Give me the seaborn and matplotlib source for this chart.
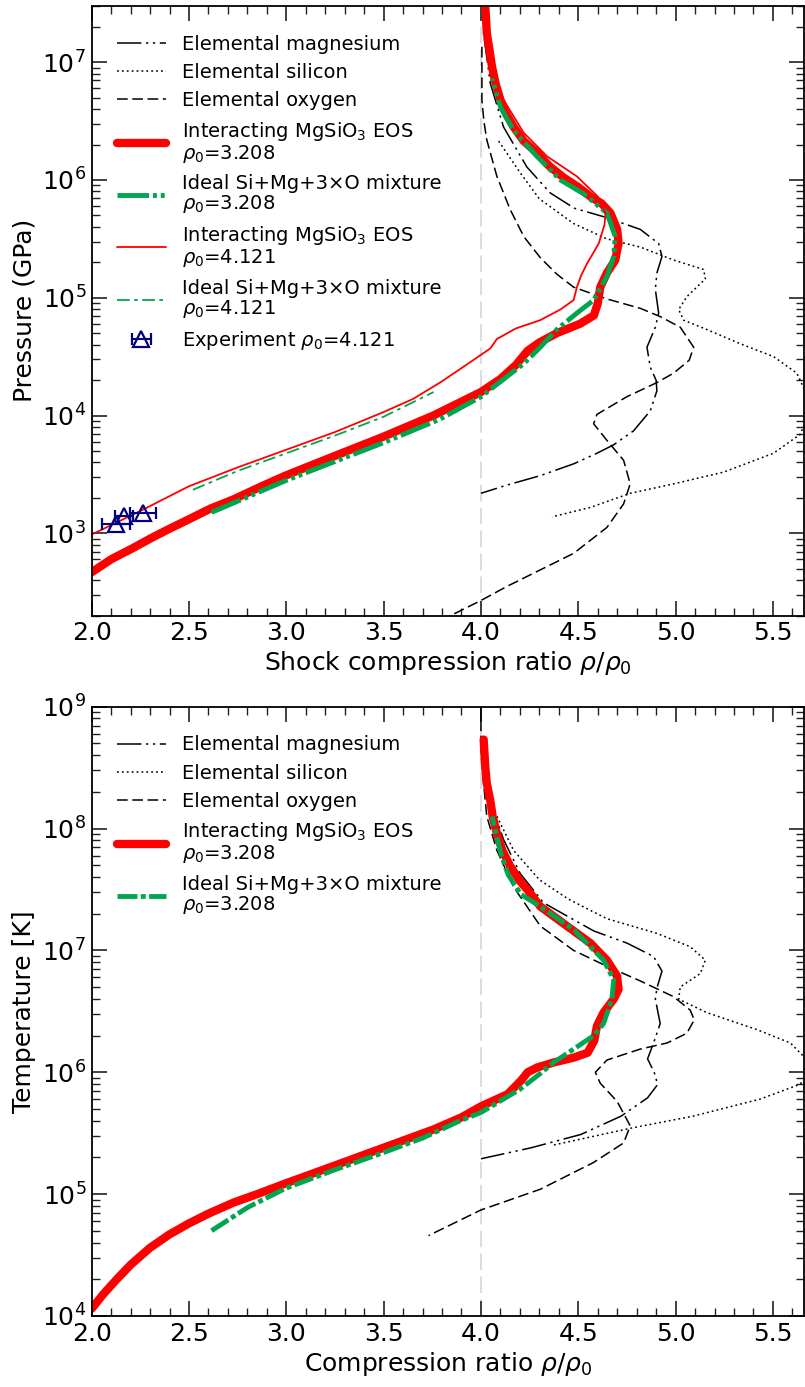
import numpy as np
import matplotlib
matplotlib.use("Agg")
import matplotlib.pyplot as plt
from matplotlib.ticker import MultipleLocator, LogLocator, NullFormatter
import seaborn as sns

sns.set_style("ticks")
plt.rcParams["font.family"] = ["DejaVu Sans"]
plt.rcParams["mathtext.fontset"] = "dejavusans"
for k in ["text.color", "axes.labelcolor", "xtick.color", "ytick.color", "axes.edgecolor"]:
    plt.rcParams[k] = "black"

RED = "#ff0000"
GREEN = "#00a550"
NAVY = "#000080"

# ---------------- top panel: pressure, values as log10(P / GPa)
mg_p_x = [4.017, 4.048, 4.116, 4.236, 4.356, 4.48, 4.647, 4.819, 4.913, 4.93,
          4.904, 4.896, 4.913, 4.896, 4.853, 4.87, 4.90, 4.904, 4.87, 4.784,
          4.68, 4.596, 4.476, 4.305, 4.134, 4.0]
mg_p_log = [7.20, 6.82, 6.45, 6.11, 5.89, 5.76, 5.68, 5.58, 5.46, 5.35,
            5.21, 5.07, 4.87, 4.75, 4.58, 4.41, 4.30, 4.21, 4.04, 3.87,
            3.75, 3.68, 3.59, 3.49, 3.41, 3.34]

si_p_x = [4.091, 4.202, 4.30, 4.476, 4.647, 4.819, 4.99, 5.144, 5.153, 5.058,
          5.016, 5.041, 5.161, 5.332, 5.504, 5.623, 5.665, 5.72, 5.67, 5.64,
          5.503, 5.247, 4.99, 4.767, 4.562, 4.365]
si_p_log = [6.33, 6.06, 5.84, 5.63, 5.50, 5.43, 5.32, 5.24, 5.16, 5.01,
            4.90, 4.81, 4.73, 4.61, 4.50, 4.36, 4.21, 4.08, 3.96, 3.84,
            3.68, 3.52, 3.42, 3.34, 3.22, 3.14]

o_p_x = [4.005, 4.005, 4.015, 4.03, 4.082, 4.15, 4.22, 4.305, 4.39, 4.476,
         4.647, 4.819, 4.921, 5.024, 5.093, 5.07, 4.99, 4.904, 4.75, 4.596,
         4.579, 4.647, 4.733, 4.767, 4.733, 4.647, 4.476, 4.305, 4.134, 4.0,
         3.842, 3.75]
o_p_log = [7.13, 6.68, 6.50, 6.34, 6.03, 5.75, 5.52, 5.34, 5.20, 5.09,
           4.99, 4.91, 4.84, 4.75, 4.58, 4.47, 4.36, 4.28, 4.16, 4.01,
           3.93, 3.79, 3.62, 3.42, 3.25, 3.05, 2.83, 2.69, 2.55, 2.43,
           2.30, 2.25]

red_p_x = [2.0, 2.1, 2.214, 2.3, 2.385, 2.5, 2.61, 2.728, 2.86, 3.0,
           3.241, 3.498, 3.755, 3.89, 4.0, 4.1, 4.18, 4.24, 4.30, 4.39,
           4.51, 4.58, 4.60, 4.613, 4.647, 4.69, 4.707, 4.70, 4.665, 4.62,
           4.562, 4.50, 4.425, 4.35, 4.288, 4.22, 4.168, 4.13, 4.10, 4.075,
           4.057, 4.03, 4.018]
red_p_log = [2.67, 2.78, 2.877, 2.955, 3.027, 3.12, 3.21, 3.288, 3.39, 3.493,
             3.652, 3.82, 4.0, 4.11, 4.20, 4.31, 4.43, 4.55, 4.62, 4.70,
             4.78, 4.85, 4.95, 5.09, 5.21, 5.32, 5.46, 5.58, 5.72, 5.80,
             5.86, 5.94, 6.02, 6.12, 6.23, 6.33, 6.45, 6.56, 6.68, 6.82,
             6.96, 7.25, 7.6]

green_p_x = [2.616, 3.0, 3.25, 3.5, 3.79, 4.0, 4.219, 4.305, 4.39, 4.493,
             4.579, 4.647, 4.682, 4.69, 4.647, 4.53, 4.408, 4.288, 4.168, 4.10,
             4.057]
green_p_log = [3.178, 3.45, 3.61, 3.77, 3.97, 4.16, 4.44, 4.58, 4.73, 4.87,
               4.98, 5.18, 5.35, 5.52, 5.72, 5.88, 6.0, 6.20, 6.42, 6.62,
               6.86]

redthin_p_x = [2.0, 2.25, 2.5, 2.75, 3.0, 3.25, 3.5, 3.65, 3.79, 3.96,
               4.048, 4.082, 4.18, 4.305, 4.408, 4.476, 4.493, 4.515, 4.545, 4.605,
               4.635, 4.64, 4.60, 4.493, 4.34, 4.22, 4.116, 4.06, 4.03, 4.02]
redthin_p_log = [2.99, 3.19, 3.40, 3.56, 3.71, 3.86, 4.03, 4.14, 4.28, 4.47,
                 4.57, 4.65, 4.74, 4.81, 4.90, 4.98, 5.09, 5.19, 5.29, 5.46,
                 5.62, 5.72, 5.86, 6.03, 6.20, 6.40, 6.68, 6.95, 7.25, 7.6]

greenthin_p_x = [2.52, 2.75, 3.0, 3.25, 3.5, 3.757]
greenthin_p_log = [3.37, 3.53, 3.68, 3.83, 3.99, 4.20]

exp_x = [2.125, 2.166, 2.265]
exp_p = [1210, 1415, 1490]
exp_xerr = [0.073, 0.045, 0.067]

# ---------------- bottom panel: temperature, values as log10(T / K)
mg_t_x = [4.0, 4.0, 4.014, 4.048, 4.116, 4.202, 4.322, 4.579, 4.75, 4.887,
          4.93, 4.904, 4.896, 4.921, 4.887, 4.856, 4.89, 4.908, 4.856, 4.72,
          4.514, 4.257, 4.0]
mg_t_log = [9.0, 8.75, 8.64, 8.23, 7.91, 7.63, 7.39, 7.16, 7.06, 6.95,
            6.83, 6.69, 6.60, 6.40, 6.24, 6.11, 6.00, 5.90, 5.79, 5.64,
            5.49, 5.38, 5.29]

si_t_x = [4.082, 4.168, 4.30, 4.45, 4.647, 4.904, 5.075, 5.153, 5.127, 5.024,
          5.016, 5.16, 5.418, 5.59, 5.658, 5.74, 5.666, 5.62, 5.435, 5.09,
          4.767, 4.365]
si_t_log = [8.10, 7.82, 7.58, 7.42, 7.26, 7.14, 7.03, 6.92, 6.81, 6.70,
            6.60, 6.49, 6.35, 6.24, 6.13, 6.0, 5.93, 5.89, 5.78, 5.64,
            5.54, 5.40]

o_t_x = [4.0, 4.005, 4.03, 4.082, 4.168, 4.305, 4.476, 4.647, 4.818, 4.99,
         5.075, 5.096, 5.058, 4.956, 4.818, 4.647, 4.588, 4.613, 4.70, 4.767,
         4.733, 4.579, 4.305, 4.0, 3.731]
o_t_log = [8.7, 8.51, 8.10, 7.82, 7.52, 7.20, 7.0, 6.87, 6.75, 6.62,
           6.51, 6.43, 6.32, 6.24, 6.19, 6.10, 6.0, 5.91, 5.76, 5.56,
           5.42, 5.26, 5.04, 4.87, 4.66]

red_t_x = [2.0, 2.06, 2.128, 2.2, 2.30, 2.4, 2.5, 2.6, 2.728, 2.85,
           3.0, 3.241, 3.498, 3.755, 3.9, 4.0, 4.137, 4.205, 4.24, 4.29,
           4.373, 4.476, 4.548, 4.582, 4.596, 4.630, 4.682, 4.707, 4.699, 4.647,
           4.562, 4.442, 4.305, 4.253, 4.2, 4.151, 4.11, 4.082, 4.06, 4.048,
           4.03, 4.022, 4.014]
red_t_log = [4.06, 4.18, 4.30, 4.42, 4.56, 4.67, 4.76, 4.84, 4.93, 5.00,
             5.09, 5.23, 5.38, 5.53, 5.63, 5.72, 5.82, 5.93, 6.00, 6.04,
             6.08, 6.12, 6.16, 6.26, 6.38, 6.49, 6.60, 6.68, 6.79, 6.92,
             7.06, 7.20, 7.36, 7.47, 7.57, 7.69, 7.82, 7.96, 8.10, 8.23,
             8.37, 8.51, 8.73]

green_t_x = [2.616, 2.8, 3.0, 3.25, 3.498, 3.7, 3.89, 4.0, 4.2, 4.305,
             4.373, 4.476, 4.579, 4.630, 4.673, 4.682, 4.63, 4.476, 4.305, 4.205,
             4.14, 4.103, 4.057]
green_t_log = [4.70, 4.89, 5.05, 5.20, 5.34, 5.46, 5.60, 5.67, 5.86, 5.99,
               6.08, 6.19, 6.30, 6.40, 6.60, 6.76, 6.92, 7.17, 7.36, 7.46,
               7.62, 7.79, 8.10]

MG_LS = (0, (16, 3, 1.5, 3, 1.5, 3))
SI_LS = (0, (1.2, 2.0))
O_LS = (0, (7, 3))
LAB_MGSIO3 = "Interacting MgSiO$_3$ EOS\n$\\rho_0$=%s"
LAB_IDEAL = "Ideal Si+Mg+3\u00d7O mixture\n$\\rho_0$=%s"


def curve(ax, x, logv, **kw):
    sns.lineplot(x=np.array(x), y=10.0 ** np.array(logv), sort=False,
                 estimator=None, ax=ax, **kw)


def style_axes(ax, ylim):
    ax.set_yscale("log")
    ax.set_xlim(2.0, 5.66)
    ax.set_ylim(*ylim)
    ax.xaxis.set_major_locator(MultipleLocator(0.5))
    ax.xaxis.set_minor_locator(MultipleLocator(0.1))
    ax.yaxis.set_major_locator(LogLocator(base=10, numticks=20))
    ax.yaxis.set_minor_locator(LogLocator(base=10, subs=np.arange(2, 10), numticks=20))
    ax.yaxis.set_minor_formatter(NullFormatter())
    ax.tick_params(which="both", direction="in", top=True, right=True,
                   labelsize=18, color="#222222")
    ax.tick_params(which="major", length=11, width=1.2, pad=4)
    ax.tick_params(which="minor", length=6, width=1.0)
    for s in ax.spines.values():
        s.set_linewidth(1.3)
    ax.axvline(4.0, color="#dddddd", lw=1.5, ls=(0, (8, 3)), zorder=0)


def make_legend(ax, y):
    leg = ax.legend(loc="upper left", bbox_to_anchor=(0.035, y), frameon=False,
                    fontsize=14, handlelength=2.55, handletextpad=0.8,
                    labelspacing=0.48, borderpad=0, borderaxespad=0)
    for t in leg.get_texts():
        t.set_linespacing(1.0)


fig = plt.figure(figsize=(8.05, 13.87), dpi=100)
ax1 = fig.add_axes([0.1139, 0.5561, 0.8849, 0.4396])
ax2 = fig.add_axes([0.1139, 0.0512, 0.8849, 0.4393])

style_axes(ax1, (200, 3e7))
style_axes(ax2, (1e4, 1e9))

# top panel
curve(ax1, mg_p_x, mg_p_log, color="black", lw=1.1, linestyle=MG_LS, label="Elemental magnesium")
curve(ax1, si_p_x, si_p_log, color="black", lw=1.1, linestyle=SI_LS, label="Elemental silicon")
curve(ax1, o_p_x, o_p_log, color="black", lw=1.1, linestyle=O_LS, label="Elemental oxygen")
curve(ax1, red_p_x, red_p_log, color=RED, lw=6, label=LAB_MGSIO3 % "3.208")
curve(ax1, green_p_x, green_p_log, color=GREEN, lw=3.5,
      linestyle=(0, (6.5, 0.8, 0.8, 0.8, 0.8, 0.8)), label=LAB_IDEAL % "3.208")
curve(ax1, redthin_p_x, redthin_p_log, color=RED, lw=1.3, label=LAB_MGSIO3 % "4.121")
curve(ax1, greenthin_p_x, greenthin_p_log, color=GREEN, lw=1.3,
      linestyle=(0, (7, 2.5, 2, 2.5)), label=LAB_IDEAL % "4.121")
ax1.errorbar(exp_x, exp_p, xerr=exp_xerr, fmt="^", color=NAVY, mfc="none",
             mec=NAVY, ms=12, mew=1.6, elinewidth=1.5, capsize=4, capthick=1.5,
             label="Experiment $\\rho_0$=4.121")

ax1.set_xlabel("Shock compression ratio $\\rho/\\rho_0$", fontsize=18, labelpad=3)
ax1.set_ylabel("Pressure (GPa)", fontsize=18, labelpad=4)
make_legend(ax1, 0.953)

# bottom panel
curve(ax2, mg_t_x, mg_t_log, color="black", lw=1.1, linestyle=MG_LS, label="Elemental magnesium")
curve(ax2, si_t_x, si_t_log, color="black", lw=1.1, linestyle=SI_LS, label="Elemental silicon")
curve(ax2, o_t_x, o_t_log, color="black", lw=1.1, linestyle=O_LS, label="Elemental oxygen")
curve(ax2, red_t_x, red_t_log, color=RED, lw=6, label=LAB_MGSIO3 % "3.208")
curve(ax2, green_t_x, green_t_log, color=GREEN, lw=3.5,
      linestyle=(0, (4.1, 0.7, 1.0, 0.7)), label=LAB_IDEAL % "3.208")

ax2.set_xlabel("Compression ratio $\\rho/\\rho_0$", fontsize=18, labelpad=3)
ax2.set_ylabel("Temperature [K]", fontsize=18, labelpad=4)
make_legend(ax2, 0.953)

fig.savefig("out.png", dpi=100)
